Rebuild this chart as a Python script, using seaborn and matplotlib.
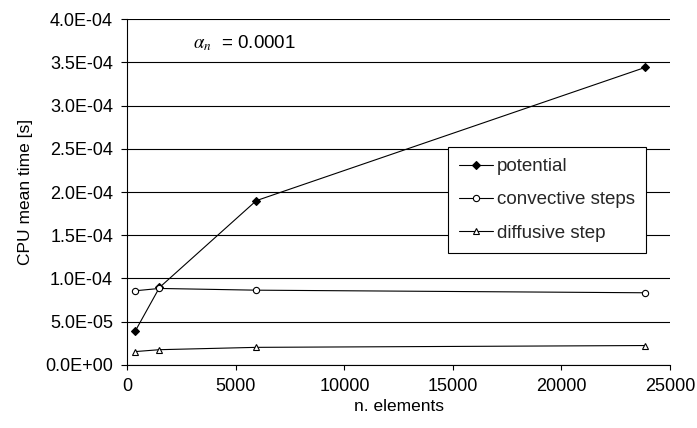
import numpy as np
import pandas as pd
import matplotlib
matplotlib.use('Agg')
import matplotlib.pyplot as plt
from matplotlib.ticker import FuncFormatter, MultipleLocator
import seaborn as sns

# values
n_elements = [360, 1480, 5940, 23850]
potential = [3.9e-5, 8.96e-5, 1.9e-4, 3.44e-4]
convective = [8.58e-5, 8.85e-5, 8.65e-5, 8.35e-5]
diffusive = [1.55e-5, 1.77e-5, 2.04e-5, 2.25e-5]

series_names = ['potential', 'convective steps', 'diffusive step']

sns.set_theme(style='white')
plt.rcParams['font.family'] = ['Liberation Sans', 'DejaVu Sans']
plt.rcParams['mathtext.fontset'] = 'stix'

df = pd.DataFrame({
    'n': n_elements * 3,
    't': potential + convective + diffusive,
    'series': [s for s in series_names for _ in n_elements],
})

fig = plt.figure(figsize=(6.97, 4.28), dpi=100)
ax = fig.add_axes([0.1827, 0.1472, 0.7786, 0.8084])

markers = {'potential': 'D', 'convective steps': 'o', 'diffusive step': '^'}
msizes = {'potential': 4, 'convective steps': 4.5, 'diffusive step': 4.5}
for name in series_names:
    sub = df[df['series'] == name]
    face = 'black' if name == 'potential' else 'white'
    sns.lineplot(data=sub, x='n', y='t', ax=ax, color='black', lw=0.8,
                 marker=markers[name], markersize=msizes[name],
                 markerfacecolor=face, markeredgecolor='black',
                 markeredgewidth=0.8, label=name)

ax.set_xlim(0, 25000)
ax.set_ylim(0, 4.0e-4)
ax.xaxis.set_major_locator(MultipleLocator(5000))
ax.yaxis.set_major_locator(MultipleLocator(5e-5))
ax.yaxis.set_major_formatter(FuncFormatter(lambda v, p: f'{v:.1E}'))
ax.yaxis.grid(True, color='black', lw=0.8)
ax.xaxis.grid(False)
ax.set_axisbelow(True)

for s in ['top', 'right']:
    ax.spines[s].set_visible(False)
for s in ['left', 'bottom']:
    ax.spines[s].set_color('black')
    ax.spines[s].set_linewidth(0.8)

ax.tick_params(axis='both', which='major', direction='out', width=0.8,
               color='black', labelsize=13, labelcolor='black',
               left=True, bottom=True)
ax.tick_params(axis='x', length=3.6, pad=6)
ax.tick_params(axis='y', length=4.3, pad=6)

ax.set_xlabel('n. elements', fontsize=12.5, color='black', labelpad=3)
ax.set_ylabel('CPU mean time [s]', fontsize=12.5, color='black', labelpad=9)

ax.text(0.121, 0.93, r'$\alpha_n$  = 0.0001', transform=ax.transAxes,
        fontsize=13.5, color='black', va='center', ha='left')

leg = ax.legend(loc='upper left', bbox_to_anchor=(0.591, 0.630),
                frameon=True, fancybox=False, shadow=False, fontsize=13.5,
                handlelength=1.8, handletextpad=0.2, borderpad=0.6,
                borderaxespad=0, labelspacing=0.85)
leg.get_frame().set_edgecolor('black')
leg.get_frame().set_linewidth(0.8)
leg.get_frame().set_facecolor('white')
leg.get_frame().set_alpha(1)

fig.savefig('out.png', dpi=100)
